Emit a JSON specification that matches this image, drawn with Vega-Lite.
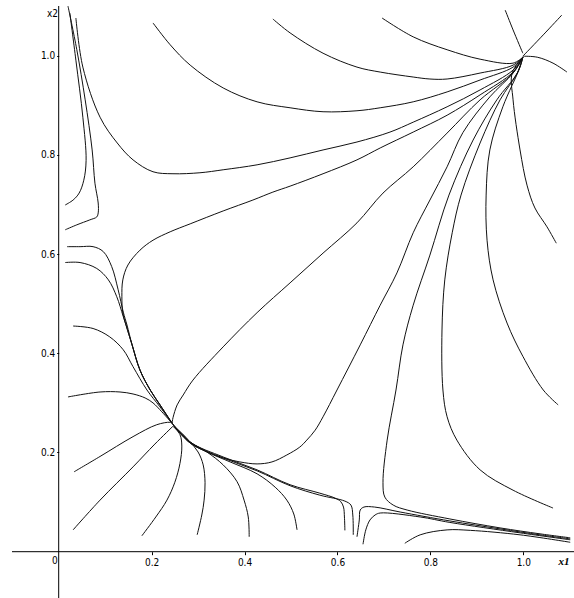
{
  "$schema": "https://vega.github.io/schema/vega-lite/v6.json",
  "width": 574,
  "height": 598,
  "autosize": {"type": "none"},
  "padding": 0,
  "background": "white",
  "config": {"view": {"stroke": null}},
  "datasets": {
    "curves": [
      {"c":1,"o":0,"x":0.020,"y":1.100},{"c":1,"o":1,"x":0.039,"y":1.012},{"c":1,"o":2,"x":0.057,"y":0.911},{"c":1,"o":3,"x":0.072,"y":0.810},{"c":1,"o":4,"x":0.078,"y":0.743},{"c":1,"o":5,"x":0.085,"y":0.703},{"c":1,"o":6,"x":0.085,"y":0.683},{"c":1,"o":7,"x":0.082,"y":0.675},{"c":1,"o":8,"x":0.067,"y":0.669},{"c":1,"o":9,"x":0.039,"y":0.659},{"c":1,"o":10,"x":0.014,"y":0.649},
      {"c":2,"o":0,"x":0.024,"y":1.086},{"c":2,"o":1,"x":0.037,"y":0.991},{"c":2,"o":2,"x":0.052,"y":0.876},{"c":2,"o":3,"x":0.059,"y":0.789},{"c":2,"o":4,"x":0.054,"y":0.749},{"c":2,"o":5,"x":0.044,"y":0.723},{"c":2,"o":6,"x":0.031,"y":0.709},{"c":2,"o":7,"x":0.014,"y":0.699},
      {"c":3,"o":0,"x":0.037,"y":1.076},{"c":3,"o":1,"x":0.052,"y":0.977},{"c":3,"o":2,"x":0.089,"y":0.876},{"c":3,"o":3,"x":0.126,"y":0.824},{"c":3,"o":4,"x":0.160,"y":0.790},{"c":3,"o":5,"x":0.203,"y":0.766},{"c":3,"o":6,"x":0.246,"y":0.762},{"c":3,"o":7,"x":0.304,"y":0.764},{"c":3,"o":8,"x":0.354,"y":0.770},{"c":3,"o":9,"x":0.427,"y":0.780},{"c":3,"o":10,"x":0.498,"y":0.794},{"c":3,"o":11,"x":0.569,"y":0.810},{"c":3,"o":12,"x":0.642,"y":0.826},{"c":3,"o":13,"x":0.713,"y":0.846},{"c":3,"o":14,"x":0.763,"y":0.866},{"c":3,"o":15,"x":0.836,"y":0.897},{"c":3,"o":16,"x":0.907,"y":0.931},{"c":3,"o":17,"x":0.978,"y":0.971},{"c":3,"o":18,"x":0.999,"y":0.997},
      {"c":4,"o":0,"x":0.203,"y":1.066},{"c":4,"o":1,"x":0.240,"y":1.022},{"c":4,"o":2,"x":0.283,"y":0.981},{"c":4,"o":3,"x":0.354,"y":0.935},{"c":4,"o":4,"x":0.427,"y":0.907},{"c":4,"o":5,"x":0.498,"y":0.895},{"c":4,"o":6,"x":0.569,"y":0.887},{"c":4,"o":7,"x":0.642,"y":0.889},{"c":4,"o":8,"x":0.692,"y":0.895},{"c":4,"o":9,"x":0.763,"y":0.907},{"c":4,"o":10,"x":0.836,"y":0.927},{"c":4,"o":11,"x":0.907,"y":0.951},{"c":4,"o":12,"x":0.978,"y":0.977},{"c":4,"o":13,"x":0.999,"y":0.997},
      {"c":5,"o":0,"x":0.461,"y":1.074},{"c":5,"o":1,"x":0.498,"y":1.046},{"c":5,"o":2,"x":0.569,"y":1.005},{"c":5,"o":3,"x":0.642,"y":0.977},{"c":5,"o":4,"x":0.692,"y":0.967},{"c":5,"o":5,"x":0.763,"y":0.957},{"c":5,"o":6,"x":0.799,"y":0.953},{"c":5,"o":7,"x":0.836,"y":0.953},{"c":5,"o":8,"x":0.907,"y":0.965},{"c":5,"o":9,"x":0.978,"y":0.981},{"c":5,"o":10,"x":0.999,"y":0.997},
      {"c":6,"o":0,"x":0.696,"y":1.076},{"c":6,"o":1,"x":0.763,"y":1.038},{"c":6,"o":2,"x":0.836,"y":1.012},{"c":6,"o":3,"x":0.907,"y":0.993},{"c":6,"o":4,"x":0.978,"y":0.985},{"c":6,"o":5,"x":0.999,"y":0.997},
      {"c":7,"o":0,"x":0.999,"y":0.997},{"c":7,"o":1,"x":0.978,"y":0.967},{"c":7,"o":2,"x":0.907,"y":0.921},{"c":7,"o":3,"x":0.836,"y":0.880},{"c":7,"o":4,"x":0.763,"y":0.846},{"c":7,"o":5,"x":0.692,"y":0.814},{"c":7,"o":6,"x":0.642,"y":0.790},{"c":7,"o":7,"x":0.569,"y":0.762},{"c":7,"o":8,"x":0.498,"y":0.737},{"c":7,"o":9,"x":0.461,"y":0.725},{"c":7,"o":10,"x":0.418,"y":0.709},{"c":7,"o":11,"x":0.354,"y":0.687},{"c":7,"o":12,"x":0.283,"y":0.661},{"c":7,"o":13,"x":0.240,"y":0.645},{"c":7,"o":14,"x":0.203,"y":0.628},{"c":7,"o":15,"x":0.175,"y":0.608},{"c":7,"o":16,"x":0.149,"y":0.578},{"c":7,"o":17,"x":0.138,"y":0.548},{"c":7,"o":18,"x":0.136,"y":0.514},{"c":7,"o":19,"x":0.138,"y":0.481},{"c":7,"o":20,"x":0.145,"y":0.457},{"c":7,"o":21,"x":0.158,"y":0.417},{"c":7,"o":22,"x":0.175,"y":0.366},{"c":7,"o":23,"x":0.197,"y":0.326},{"c":7,"o":24,"x":0.218,"y":0.296},{"c":7,"o":25,"x":0.244,"y":0.259},
      {"c":8,"o":0,"x":0.018,"y":0.615},{"c":8,"o":1,"x":0.046,"y":0.615},{"c":8,"o":2,"x":0.074,"y":0.615},{"c":8,"o":3,"x":0.096,"y":0.605},{"c":8,"o":4,"x":0.114,"y":0.575},{"c":8,"o":5,"x":0.128,"y":0.528},{"c":8,"o":6,"x":0.139,"y":0.483},{"c":8,"o":7,"x":0.147,"y":0.457},{"c":8,"o":8,"x":0.158,"y":0.417},{"c":8,"o":9,"x":0.175,"y":0.366},{"c":8,"o":10,"x":0.197,"y":0.326},{"c":8,"o":11,"x":0.218,"y":0.296},{"c":8,"o":12,"x":0.244,"y":0.259},
      {"c":9,"o":0,"x":0.014,"y":0.583},{"c":9,"o":1,"x":0.046,"y":0.583},{"c":9,"o":2,"x":0.082,"y":0.571},{"c":9,"o":3,"x":0.107,"y":0.548},{"c":9,"o":4,"x":0.125,"y":0.514},{"c":9,"o":5,"x":0.139,"y":0.474},{"c":9,"o":6,"x":0.158,"y":0.417},{"c":9,"o":7,"x":0.175,"y":0.366},{"c":9,"o":8,"x":0.197,"y":0.326},{"c":9,"o":9,"x":0.218,"y":0.296},{"c":9,"o":10,"x":0.244,"y":0.259},
      {"c":10,"o":0,"x":0.031,"y":0.455},{"c":10,"o":1,"x":0.074,"y":0.450},{"c":10,"o":2,"x":0.110,"y":0.433},{"c":10,"o":3,"x":0.139,"y":0.407},{"c":10,"o":4,"x":0.160,"y":0.373},{"c":10,"o":5,"x":0.190,"y":0.326},{"c":10,"o":6,"x":0.218,"y":0.292},{"c":10,"o":7,"x":0.244,"y":0.259},
      {"c":11,"o":0,"x":0.020,"y":0.312},{"c":11,"o":1,"x":0.089,"y":0.322},{"c":11,"o":2,"x":0.132,"y":0.322},{"c":11,"o":3,"x":0.160,"y":0.318},{"c":11,"o":4,"x":0.186,"y":0.310},{"c":11,"o":5,"x":0.203,"y":0.300},{"c":11,"o":6,"x":0.222,"y":0.282},{"c":11,"o":7,"x":0.244,"y":0.259},
      {"c":12,"o":0,"x":0.033,"y":0.161},{"c":12,"o":1,"x":0.089,"y":0.192},{"c":12,"o":2,"x":0.160,"y":0.232},{"c":12,"o":3,"x":0.211,"y":0.256},{"c":12,"o":4,"x":0.240,"y":0.261},{"c":12,"o":5,"x":0.246,"y":0.259},
      {"c":13,"o":0,"x":0.031,"y":0.044},{"c":13,"o":1,"x":0.089,"y":0.104},{"c":13,"o":2,"x":0.160,"y":0.171},{"c":13,"o":3,"x":0.207,"y":0.217},{"c":13,"o":4,"x":0.246,"y":0.253},
      {"c":14,"o":0,"x":0.246,"y":0.253},{"c":14,"o":1,"x":0.261,"y":0.236},{"c":14,"o":2,"x":0.265,"y":0.213},{"c":14,"o":3,"x":0.261,"y":0.178},{"c":14,"o":4,"x":0.250,"y":0.140},{"c":14,"o":5,"x":0.233,"y":0.104},{"c":14,"o":6,"x":0.209,"y":0.070},{"c":14,"o":7,"x":0.179,"y":0.032},
      {"c":15,"o":0,"x":0.246,"y":0.255},{"c":15,"o":1,"x":0.265,"y":0.239},{"c":15,"o":2,"x":0.283,"y":0.221},{"c":15,"o":3,"x":0.300,"y":0.201},{"c":15,"o":4,"x":0.311,"y":0.175},{"c":15,"o":5,"x":0.315,"y":0.139},{"c":15,"o":6,"x":0.313,"y":0.104},{"c":15,"o":7,"x":0.308,"y":0.074},{"c":15,"o":8,"x":0.298,"y":0.034},
      {"c":16,"o":0,"x":0.250,"y":0.251},{"c":16,"o":1,"x":0.283,"y":0.221},{"c":16,"o":2,"x":0.319,"y":0.201},{"c":16,"o":3,"x":0.354,"y":0.175},{"c":16,"o":4,"x":0.384,"y":0.141},{"c":16,"o":5,"x":0.399,"y":0.104},{"c":16,"o":6,"x":0.408,"y":0.070},{"c":16,"o":7,"x":0.410,"y":0.030},
      {"c":17,"o":0,"x":0.250,"y":0.251},{"c":17,"o":1,"x":0.283,"y":0.219},{"c":17,"o":2,"x":0.319,"y":0.201},{"c":17,"o":3,"x":0.369,"y":0.181},{"c":17,"o":4,"x":0.427,"y":0.157},{"c":17,"o":5,"x":0.466,"y":0.130},{"c":17,"o":6,"x":0.491,"y":0.104},{"c":17,"o":7,"x":0.506,"y":0.076},{"c":17,"o":8,"x":0.513,"y":0.044},
      {"c":18,"o":0,"x":0.244,"y":0.259},{"c":18,"o":1,"x":0.283,"y":0.221},{"c":18,"o":2,"x":0.326,"y":0.199},{"c":18,"o":3,"x":0.354,"y":0.189},{"c":18,"o":4,"x":0.390,"y":0.181},{"c":18,"o":5,"x":0.427,"y":0.177},{"c":18,"o":6,"x":0.459,"y":0.181},{"c":18,"o":7,"x":0.491,"y":0.195},{"c":18,"o":8,"x":0.519,"y":0.211},{"c":18,"o":9,"x":0.534,"y":0.225},{"c":18,"o":10,"x":0.552,"y":0.245},{"c":18,"o":11,"x":0.569,"y":0.272},{"c":18,"o":12,"x":0.599,"y":0.326},{"c":18,"o":13,"x":0.649,"y":0.417},{"c":18,"o":14,"x":0.692,"y":0.497},{"c":18,"o":15,"x":0.728,"y":0.562},{"c":18,"o":16,"x":0.763,"y":0.643},{"c":18,"o":17,"x":0.799,"y":0.709},{"c":18,"o":18,"x":0.836,"y":0.776},{"c":18,"o":19,"x":0.870,"y":0.845},{"c":18,"o":20,"x":0.928,"y":0.917},{"c":18,"o":21,"x":0.978,"y":0.965},{"c":18,"o":22,"x":0.999,"y":0.997},
      {"c":19,"o":0,"x":0.999,"y":0.997},{"c":19,"o":1,"x":0.987,"y":0.965},{"c":19,"o":2,"x":0.943,"y":0.911},{"c":19,"o":3,"x":0.892,"y":0.830},{"c":19,"o":4,"x":0.840,"y":0.719},{"c":19,"o":5,"x":0.799,"y":0.598},{"c":19,"o":6,"x":0.763,"y":0.497},{"c":19,"o":7,"x":0.741,"y":0.417},{"c":19,"o":8,"x":0.726,"y":0.326},{"c":19,"o":9,"x":0.707,"y":0.225},{"c":19,"o":10,"x":0.698,"y":0.139},{"c":19,"o":11,"x":0.702,"y":0.110},{"c":19,"o":12,"x":0.720,"y":0.094},{"c":19,"o":13,"x":0.750,"y":0.084},{"c":19,"o":14,"x":0.842,"y":0.066},{"c":19,"o":15,"x":0.950,"y":0.048},{"c":19,"o":16,"x":1.036,"y":0.036},{"c":19,"o":17,"x":1.101,"y":0.028},
      {"c":20,"o":0,"x":0.999,"y":0.997},{"c":20,"o":1,"x":0.987,"y":0.965},{"c":20,"o":2,"x":0.950,"y":0.911},{"c":20,"o":3,"x":0.907,"y":0.824},{"c":20,"o":4,"x":0.866,"y":0.719},{"c":20,"o":5,"x":0.847,"y":0.643},{"c":20,"o":6,"x":0.831,"y":0.548},{"c":20,"o":7,"x":0.825,"y":0.447},{"c":20,"o":8,"x":0.827,"y":0.326},{"c":20,"o":9,"x":0.836,"y":0.272},{"c":20,"o":10,"x":0.857,"y":0.225},{"c":20,"o":11,"x":0.907,"y":0.165},{"c":20,"o":12,"x":0.978,"y":0.124},{"c":20,"o":13,"x":1.064,"y":0.088},
      {"c":21,"o":0,"x":0.999,"y":0.997},{"c":21,"o":1,"x":0.993,"y":0.977},{"c":21,"o":2,"x":0.956,"y":0.897},{"c":21,"o":3,"x":0.928,"y":0.810},{"c":21,"o":4,"x":0.920,"y":0.719},{"c":21,"o":5,"x":0.922,"y":0.628},{"c":21,"o":6,"x":0.935,"y":0.548},{"c":21,"o":7,"x":0.965,"y":0.461},{"c":21,"o":8,"x":0.999,"y":0.394},{"c":21,"o":9,"x":1.043,"y":0.326},{"c":21,"o":10,"x":1.075,"y":0.296},
      {"c":22,"o":0,"x":0.999,"y":0.997},{"c":22,"o":1,"x":0.976,"y":0.965},{"c":22,"o":2,"x":0.978,"y":0.911},{"c":22,"o":3,"x":0.993,"y":0.810},{"c":22,"o":4,"x":1.008,"y":0.739},{"c":22,"o":5,"x":1.025,"y":0.693},{"c":22,"o":6,"x":1.051,"y":0.655},{"c":22,"o":7,"x":1.071,"y":0.622},
      {"c":23,"o":0,"x":0.999,"y":0.999},{"c":23,"o":1,"x":1.030,"y":0.997},{"c":23,"o":2,"x":1.064,"y":0.985},{"c":23,"o":3,"x":1.094,"y":0.967},
      {"c":24,"o":0,"x":0.999,"y":0.999},{"c":24,"o":1,"x":1.043,"y":1.042},{"c":24,"o":2,"x":1.083,"y":1.082},
      {"c":25,"o":0,"x":0.961,"y":1.092},{"c":25,"o":1,"x":0.978,"y":1.052},{"c":25,"o":2,"x":0.999,"y":1.005},
      {"c":26,"o":0,"x":0.244,"y":0.259},{"c":26,"o":1,"x":0.246,"y":0.270},{"c":26,"o":2,"x":0.255,"y":0.296},{"c":26,"o":3,"x":0.268,"y":0.316},{"c":26,"o":4,"x":0.289,"y":0.346},{"c":26,"o":5,"x":0.354,"y":0.413},{"c":26,"o":6,"x":0.427,"y":0.482},{"c":26,"o":7,"x":0.498,"y":0.542},{"c":26,"o":8,"x":0.569,"y":0.602},{"c":26,"o":9,"x":0.642,"y":0.663},{"c":26,"o":10,"x":0.698,"y":0.723},{"c":26,"o":11,"x":0.763,"y":0.776},{"c":26,"o":12,"x":0.836,"y":0.844},{"c":26,"o":13,"x":0.907,"y":0.911},{"c":26,"o":14,"x":0.978,"y":0.965},{"c":26,"o":15,"x":0.999,"y":0.997},
      {"c":27,"o":0,"x":0.244,"y":0.259},{"c":27,"o":1,"x":0.283,"y":0.221},{"c":27,"o":2,"x":0.354,"y":0.191},{"c":27,"o":3,"x":0.427,"y":0.165},{"c":27,"o":4,"x":0.498,"y":0.135},{"c":27,"o":5,"x":0.562,"y":0.118},{"c":27,"o":6,"x":0.595,"y":0.108},{"c":27,"o":7,"x":0.607,"y":0.101},{"c":27,"o":8,"x":0.613,"y":0.090},{"c":27,"o":9,"x":0.615,"y":0.070},{"c":27,"o":10,"x":0.616,"y":0.043},
      {"c":28,"o":0,"x":0.244,"y":0.259},{"c":28,"o":1,"x":0.283,"y":0.219},{"c":28,"o":2,"x":0.354,"y":0.189},{"c":28,"o":3,"x":0.427,"y":0.163},{"c":28,"o":4,"x":0.498,"y":0.133},{"c":28,"o":5,"x":0.562,"y":0.114},{"c":28,"o":6,"x":0.616,"y":0.102},{"c":28,"o":7,"x":0.629,"y":0.094},{"c":28,"o":8,"x":0.633,"y":0.074},{"c":28,"o":9,"x":0.634,"y":0.034},
      {"c":29,"o":0,"x":0.642,"y":0.030},{"c":29,"o":1,"x":0.647,"y":0.064},{"c":29,"o":2,"x":0.649,"y":0.084},{"c":29,"o":3,"x":0.657,"y":0.090},{"c":29,"o":4,"x":0.680,"y":0.090},{"c":29,"o":5,"x":0.735,"y":0.080},{"c":29,"o":6,"x":0.842,"y":0.062},{"c":29,"o":7,"x":0.950,"y":0.046},{"c":29,"o":8,"x":1.036,"y":0.034},{"c":29,"o":9,"x":1.101,"y":0.026},
      {"c":30,"o":0,"x":0.655,"y":0.015},{"c":30,"o":1,"x":0.661,"y":0.044},{"c":30,"o":2,"x":0.670,"y":0.064},{"c":30,"o":3,"x":0.681,"y":0.074},{"c":30,"o":4,"x":0.692,"y":0.078},{"c":30,"o":5,"x":0.778,"y":0.070},{"c":30,"o":6,"x":0.842,"y":0.059},{"c":30,"o":7,"x":0.993,"y":0.038},{"c":30,"o":8,"x":1.101,"y":0.024},
      {"c":31,"o":0,"x":0.745,"y":0.017},{"c":31,"o":1,"x":0.778,"y":0.034},{"c":31,"o":2,"x":0.836,"y":0.044},{"c":31,"o":3,"x":0.886,"y":0.043},{"c":31,"o":4,"x":0.993,"y":0.034},{"c":31,"o":5,"x":1.101,"y":0.019}
    ],
    "labels": [
      {"t":"0","x":-0.008,"y":-0.019},
      {"t":"x2","x":-0.0133,"y":1.0841}
    ],
    "axislabel": [
      {"t":"x1","x":1.0876,"y":-0.0198}
    ],
    "axes": [
      {"v": 0}
    ]
  },
  "layer": [
    {
      "data": {"name": "curves"},
      "mark": {"type": "line", "color": "#111111", "strokeWidth": 1, "interpolate": "catmull-rom"},
      "encoding": {
        "x": {"field": "x", "type": "quantitative", "scale": {"domain": [-0.12634, 1.10913], "nice": false, "zero": false},
          "axis": {"orient": "bottom", "offset": -46.3, "values": [0.2, 0.4, 0.6, 0.8, 1.0], "format": ".1f", "domain": false, "grid": false, "tickSize": 3, "tickColor": "black", "labelPadding": 3, "title": null, "labelFont": "Liberation Sans Narrow, DejaVu Sans Condensed, Liberation Sans, sans-serif", "labelFontSize": 10, "labelColor": "black"}},
        "y": {"field": "y", "type": "quantitative", "scale": {"domain": [-0.09335, 1.1123], "nice": false, "zero": false},
          "axis": {"orient": "left", "offset": -58.7, "values": [0.2, 0.4, 0.6, 0.8, 1.0], "format": ".1f", "domain": false, "grid": false, "tickSize": 2, "tickColor": "black", "labelPadding": 2, "title": null, "labelFont": "Liberation Sans Narrow, DejaVu Sans Condensed, Liberation Sans, sans-serif", "labelFontSize": 10, "labelColor": "black"}},
        "detail": {"field": "c", "type": "nominal"},
        "order": {"field": "o", "type": "quantitative"}
      }
    },
    {
      "data": {"name": "axes"},
      "mark": {"type": "rule", "color": "black", "strokeWidth": 1},
      "encoding": {
        "y": {"field": "v", "type": "quantitative", "title": null},
        "x": {"datum": -0.1005, "type": "quantitative"},
        "x2": {"datum": 1.10913}
      }
    },
    {
      "data": {"name": "axes"},
      "mark": {"type": "rule", "color": "black", "strokeWidth": 1},
      "encoding": {
        "x": {"field": "v", "type": "quantitative", "title": null},
        "y": {"datum": 1.1002, "type": "quantitative"},
        "y2": {"datum": -0.09335}
      }
    },
    {
      "data": {"name": "labels"},
      "mark": {"type": "text", "font": "Liberation Sans Narrow, DejaVu Sans Condensed, Liberation Sans, sans-serif", "fontSize": 10, "color": "black", "align": "center", "baseline": "middle"},
      "encoding": {
        "x": {"field": "x", "type": "quantitative", "title": null},
        "y": {"field": "y", "type": "quantitative", "title": null},
        "text": {"field": "t"}
      }
    },
    {
      "data": {"name": "axislabel"},
      "mark": {"type": "text", "font": "Liberation Serif", "fontSize": 11, "fontStyle": "italic", "fontWeight": "bold", "color": "black", "align": "center", "baseline": "middle"},
      "encoding": {
        "x": {"field": "x", "type": "quantitative", "title": null},
        "y": {"field": "y", "type": "quantitative", "title": null},
        "text": {"field": "t"}
      }
    }
  ]
}
